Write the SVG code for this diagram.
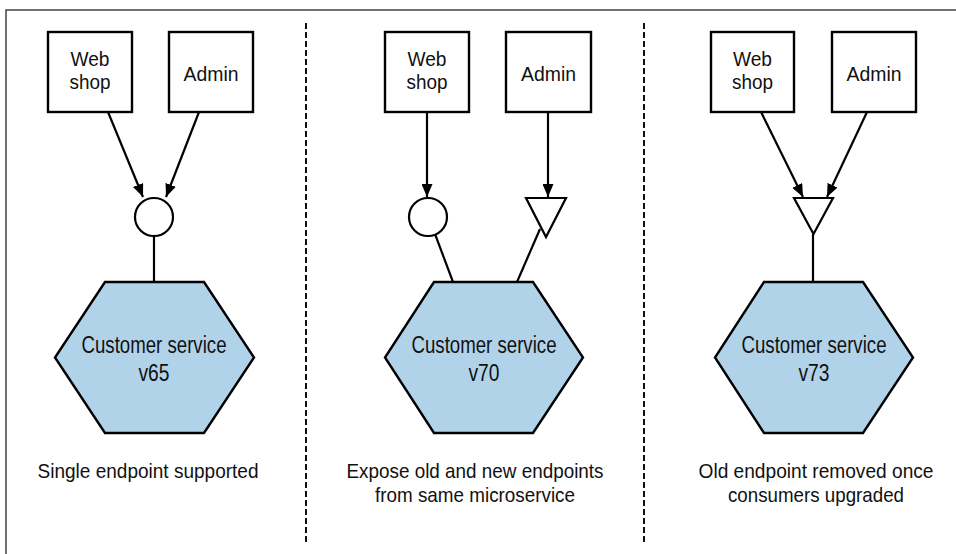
<svg xmlns="http://www.w3.org/2000/svg" width="956" height="554" viewBox="0 0 956 554">
<style>
.box{fill:#fff;stroke:#000;stroke-width:2.4}
.hex{fill:#b1d3ea;stroke:#000;stroke-width:2.4}
.ep{fill:#fff;stroke:#000;stroke-width:2.2}
.ln{stroke:#000;stroke-width:2.2;fill:none}
.arr{stroke:#000;stroke-width:2.2;fill:none;marker-end:url(#ah)}
.div{stroke:#111;stroke-width:2;stroke-dasharray:6,3;fill:none}
.frame{stroke:#444;stroke-width:1.5;fill:none}
text{font-family:"Liberation Sans",Arial,sans-serif;font-size:21px;fill:#111;text-anchor:middle}
.bx{font-size:20px}
.hx{font-size:23px}
</style>
<defs>
<marker id="ah" viewBox="0 0 13 11" refX="13" refY="5.5" markerWidth="13" markerHeight="11" markerUnits="userSpaceOnUse" orient="auto">
<path d="M0,0 L13,5.5 L0,11 z" fill="#000"/>
</marker>
</defs>
<rect width="956" height="554" fill="#fff"/>
<path class="frame" d="M6,554 V10 H956"/>
<g id="dividers">
<line class="div" x1="306" y1="23" x2="306" y2="543"/>
<line class="div" x1="644" y1="23" x2="644" y2="543"/>
</g>
<g id="connectors">
<line class="arr" x1="108" y1="112" x2="143" y2="197"/>
<line class="arr" x1="199" y1="112" x2="166" y2="197"/>
<line class="ln" x1="154" y1="236" x2="154" y2="282"/>
<line class="arr" x1="427" y1="112" x2="427" y2="197"/>
<line class="arr" x1="548" y1="112" x2="548" y2="197"/>
<line class="ln" x1="435" y1="234" x2="453" y2="282"/>
<line class="ln" x1="540" y1="229" x2="517" y2="282"/>
<line class="arr" x1="761" y1="112" x2="803" y2="197"/>
<line class="arr" x1="867" y1="112" x2="827" y2="197"/>
<line class="ln" x1="813" y1="234" x2="813" y2="282"/>
</g>
<g id="p1-webshop"><rect class="box" x="48" y="32" width="84" height="80"/><text class="bx" x="90" y="66" textLength="39" lengthAdjust="spacingAndGlyphs">Web</text><text class="bx" x="90" y="89" textLength="41" lengthAdjust="spacingAndGlyphs">shop</text></g>
<g id="p1-admin"><rect class="box" x="169" y="32" width="84" height="80"/><text class="bx" x="211" y="81" textLength="55" lengthAdjust="spacingAndGlyphs">Admin</text></g>
<g id="p1-endpoint"><circle class="ep" cx="154" cy="217" r="19"/></g>
<g id="p1-service"><polygon class="hex" points="105,282 204,282 254,357.5 204,433 105,433 55,357.5"/><text class="hx" x="154" y="352.5" textLength="145" lengthAdjust="spacingAndGlyphs">Customer service</text><text class="hx" x="154" y="381" textLength="31" lengthAdjust="spacingAndGlyphs">v65</text></g>
<g id="p1-caption"><text x="148" y="478" textLength="221" lengthAdjust="spacingAndGlyphs">Single endpoint supported</text></g>
<g id="p2-webshop"><rect class="box" x="385" y="32" width="84" height="80"/><text class="bx" x="427" y="66" textLength="39" lengthAdjust="spacingAndGlyphs">Web</text><text class="bx" x="427" y="89" textLength="41" lengthAdjust="spacingAndGlyphs">shop</text></g>
<g id="p2-admin"><rect class="box" x="506" y="32" width="85" height="80"/><text class="bx" x="548.5" y="81" textLength="55" lengthAdjust="spacingAndGlyphs">Admin</text></g>
<g id="p2-old-endpoint"><circle class="ep" cx="428" cy="217" r="19"/></g>
<g id="p2-new-endpoint"><polygon class="ep" points="526,198 566,198 546,237"/></g>
<g id="p2-service"><polygon class="hex" points="434,282 533,282 583,357.5 533,433 434,433 385,357.5"/><text class="hx" x="484" y="352.5" textLength="145" lengthAdjust="spacingAndGlyphs">Customer service</text><text class="hx" x="484" y="381" textLength="31" lengthAdjust="spacingAndGlyphs">v70</text></g>
<g id="p2-caption"><text x="475" y="478" textLength="257" lengthAdjust="spacingAndGlyphs">Expose old and new endpoints</text><text x="475" y="502" textLength="200" lengthAdjust="spacingAndGlyphs">from same microservice</text></g>
<g id="p3-webshop"><rect class="box" x="711" y="32" width="83" height="80"/><text class="bx" x="752.5" y="66" textLength="39" lengthAdjust="spacingAndGlyphs">Web</text><text class="bx" x="752.5" y="89" textLength="41" lengthAdjust="spacingAndGlyphs">shop</text></g>
<g id="p3-admin"><rect class="box" x="832" y="32" width="84" height="80"/><text class="bx" x="874" y="81" textLength="55" lengthAdjust="spacingAndGlyphs">Admin</text></g>
<g id="p3-endpoint"><polygon class="ep" points="794,198 833,198 813.5,234"/></g>
<g id="p3-service"><polygon class="hex" points="764,282 863,282 913,357.5 863,433 764,433 715,357.5"/><text class="hx" x="814" y="352.5" textLength="145" lengthAdjust="spacingAndGlyphs">Customer service</text><text class="hx" x="814" y="381" textLength="31" lengthAdjust="spacingAndGlyphs">v73</text></g>
<g id="p3-caption"><text x="816" y="478" textLength="235" lengthAdjust="spacingAndGlyphs">Old endpoint removed once</text><text x="816" y="502" textLength="176" lengthAdjust="spacingAndGlyphs">consumers upgraded</text></g>
</svg>
